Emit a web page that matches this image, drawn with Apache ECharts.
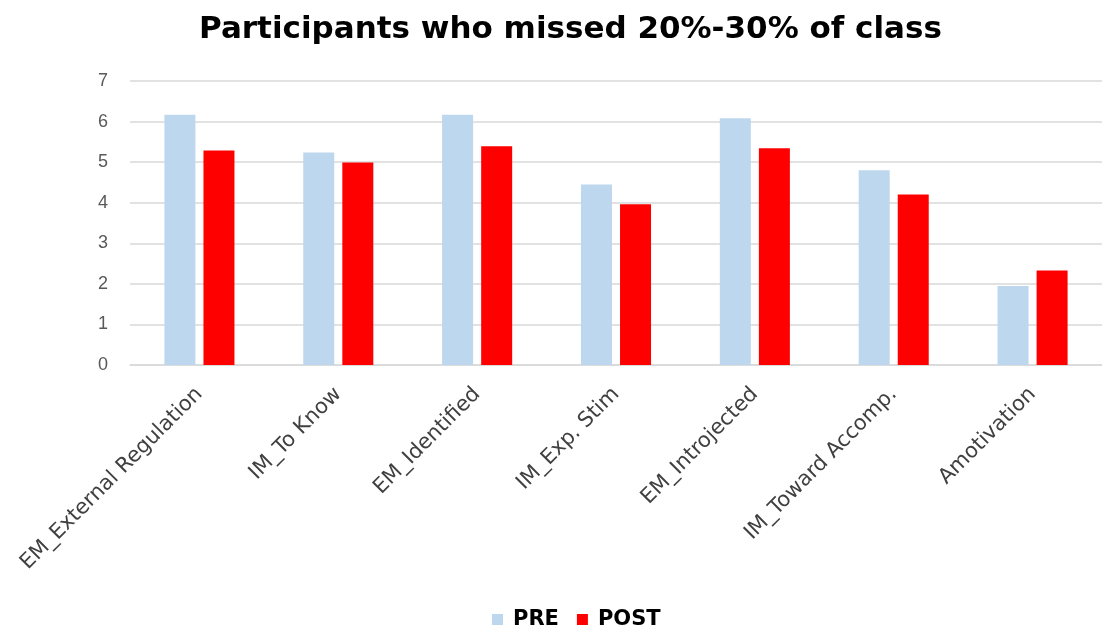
<!DOCTYPE html>
<html>
<head>
<meta charset="utf-8">
<script src="https://cdn.jsdelivr.net/npm/echarts@6/dist/echarts.min.js"></script>
<style>
  html, body { margin: 0; padding: 0; background: #fff; }
  #chart { width: 1102px; height: 635px; }
</style>
</head>
<body>
<div id="chart"></div>
<script>
const categories = [
  'EM_External Regulation',
  'IM_To Know',
  'EM_Identified',
  'IM_Exp. Stim',
  'EM_Introjected',
  'IM_Toward Accomp.',
  'Amotivation'
];
const preValues = [6.17, 5.24, 6.17, 4.45, 6.08, 4.80, 1.95];
const postValues = [5.29, 4.99, 5.39, 3.96, 5.34, 4.20, 2.33];
const yTicks = [0, 1, 2, 3, 4, 5, 6, 7];

const titleText = 'Participants who missed 20%-30% of class';

const chart = echarts.init(document.getElementById('chart'));

// reference text is wide, DejaVu gets closer than Arial
const wideFont = 'DejaVu Sans, Liberation Sans, sans-serif';

// title in the reference is centred a bit right of the middle (~570px)
const ctx = document.createElement('canvas').getContext('2d');
ctx.font = 'bold 31px ' + wideFont;
const titleW = ctx.measureText(titleText).width;

const option = {
  animation: false,
  title: {
    text: titleText,
    left: Math.round(570 - titleW / 2),
    top: 14,
    padding: 0,
    textStyle: {
      fontFamily: wideFont,
      fontSize: 31,
      fontWeight: 'bold',
      color: '#000'
    }
  },
  legend: {
    data: ['PRE', 'POST'],
    bottom: 0,
    left: 487,
    icon: 'rect',
    itemWidth: 11,
    itemHeight: 11,
    itemGap: 18,
    textStyle: {
      fontFamily: wideFont,
      fontSize: 21,
      fontWeight: 'bold',
      color: '#000',
      padding: [0, 0, 0, 5]
    }
  },
  grid: {
    left: 130,
    right: -8,
    top: 81,
    bottom: 270,
    containLabel: false
  },
  xAxis: {
    type: 'category',
    data: categories,
    axisTick: { show: false },
    axisLine: { lineStyle: { color: '#d9d9d9', width: 1.5 } },
    axisLabel: {
      rotate: 45,
      margin: 26,
      interval: 0,
      fontFamily: wideFont,
      fontSize: 21,
      color: '#404040'
    }
  },
  yAxis: {
    type: 'value',
    min: yTicks[0],
    max: yTicks[yTicks.length - 1],
    interval: 1,
    axisLine: { show: false },
    axisTick: { show: false },
    splitLine: { lineStyle: { color: '#d9d9d9', width: 1.5 } },
    axisLabel: {
      margin: 22,
      fontFamily: 'Liberation Sans, Arial, sans-serif',
      fontSize: 18,
      color: '#595959'
    }
  },
  series: [
    {
      name: 'PRE',
      type: 'bar',
      data: preValues,
      barWidth: 31,
      barGap: '26%',
      itemStyle: { color: '#bdd7ee' }
    },
    {
      name: 'POST',
      type: 'bar',
      data: postValues,
      barWidth: 31,
      itemStyle: { color: '#ff0000' }
    }
  ]
};

chart.setOption(option);
</script>
</body>
</html>
